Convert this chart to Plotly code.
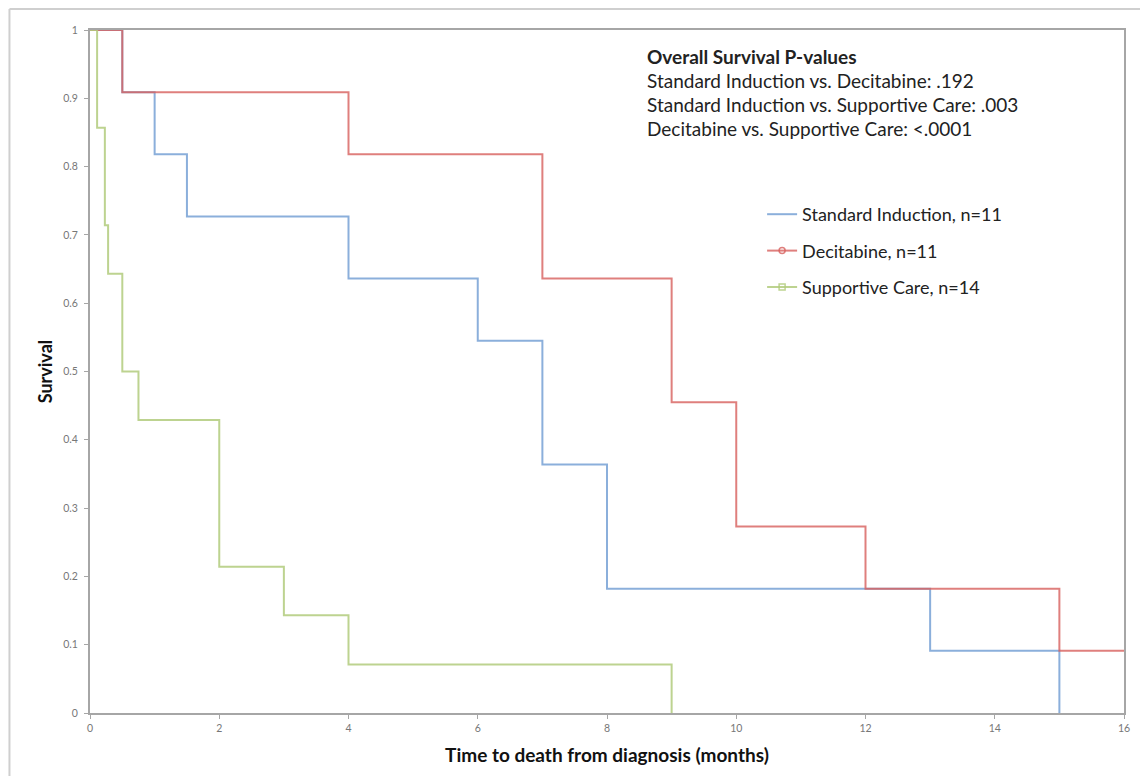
import plotly.graph_objects as go

# ---- data ----
si_time = [0, 0.5, 1, 1.5, 4, 6, 7, 8, 13, 15]
si_surv = [1, 0.909, 0.818, 0.727, 0.636, 0.545, 0.364, 0.182, 0.091, 0]

dec_time = [0, 0.5, 4, 7, 9, 10, 12, 15, 16]
dec_surv = [1, 0.909, 0.818, 0.636, 0.455, 0.273, 0.182, 0.091, 0.091]

sc_time = [0, 0.11, 0.23, 0.28, 0.5, 0.75, 2, 3, 4, 9]
sc_surv = [1, 0.857, 0.714, 0.643, 0.5, 0.429, 0.214, 0.143, 0.071, 0]

series_names = ["Standard Induction, n=11", "Decitabine, n=11", "Supportive Care, n=14"]
x_ticks = [0, 2, 4, 6, 8, 10, 12, 14, 16]
y_ticks = [0, 0.1, 0.2, 0.3, 0.4, 0.5, 0.6, 0.7, 0.8, 0.9, 1]
y_tick_text = ["0", "0.1", "0.2", "0.3", "0.4", "0.5", "0.6", "0.7", "0.8", "0.9", "1"]

pvalue_title = "Overall Survival P-values"
pvalue_lines = [
    "Standard Induction vs. Decitabine: .192",
    "Standard Induction vs. Supportive Care: .003",
    "Decitabine vs. Supportive Care: <.0001",
]

colors = ["rgba(110,155,210,0.80)", "rgba(215,95,92,0.80)", "rgba(178,203,125,0.85)"]
markers = [None, "circle-open", "square-open"]

FONT = "Lato"

fig = go.Figure()
data = [(si_time, si_surv), (dec_time, dec_surv), (sc_time, sc_surv)]
for (t, s), name, c in zip(data, series_names, colors):
    fig.add_trace(go.Scatter(x=t, y=s, mode="lines", line=dict(color=c, width=2, shape="hv"),
                             showlegend=False, hoverinfo="x+y", name=name))

# legend entries
for i, (name, c, m) in enumerate(zip(series_names, colors, markers)):
    if m is None:
        fig.add_trace(go.Scatter(x=[None], y=[None], mode="lines", line=dict(color=c, width=2),
                                 name=name, legendgroup=f"g{i}"))
    else:
        fig.add_trace(go.Scatter(x=[None], y=[None], mode="lines+markers", line=dict(color=c, width=2),
                                 marker=dict(symbol=m, size=6, color=c, line=dict(width=1.5, color=c)),
                                 name=name, legendgroup=f"g{i}"))

# plot area in page pixels: x 90..1130, y 30..713
def py(p):
    return (713 - p) / 683

def px(p):
    return (p - 90) / 1040

annots = [dict(text="<b>" + pvalue_title + "</b>", x=px(648), y=py(57))]
for k, line in enumerate(pvalue_lines):
    annots.append(dict(text=line, x=px(648), y=py(81 + 24 * k)))
for a in annots:
    a.update(xref="paper", yref="paper", xanchor="left", yanchor="middle", showarrow=False,
             font=dict(family=FONT, size=19, color="#222222"))

axis_common = dict(showline=True, linecolor="#a6a6a6", linewidth=2, mirror=True,
                   showgrid=False, zeroline=False, ticks="outside", ticklen=4, tickwidth=1,
                   tickcolor="#a6a6a6", tickfont=dict(family=FONT, size=10.5, color="#777777"))

fig.update_layout(
    width=1132, height=768,
    margin=dict(l=82, r=10, t=22, b=63),
    paper_bgcolor="white", plot_bgcolor="white",
    xaxis=dict(range=[0, 16], tickvals=x_ticks, ticktext=[str(v) for v in x_ticks],
               title=dict(text="<b>Time to death from diagnosis (months)</b>",
                          font=dict(family=FONT, size=19, color="#111111"), standoff=16),
               **axis_common),
    yaxis=dict(range=[0, 1], tickvals=y_ticks, ticktext=y_tick_text, ticklabelstandoff=4,
               title=dict(text="<b>Survival</b>", font=dict(family=FONT, size=18, color="#111111"), standoff=6),
               **axis_common),
    legend=dict(x=px(766), y=py(196), xanchor="left", yanchor="top",
                font=dict(family=FONT, size=18, color="#222222"), tracegroupgap=10,
                bgcolor="rgba(0,0,0,0)"),
    annotations=annots,
    shapes=[
        dict(type="line", xref="paper", yref="paper", x0=px(9), x1=1.2,
             y0=py(9), y1=py(9), line=dict(color="#cfcfcf", width=2)),
        dict(type="line", xref="paper", yref="paper", x0=px(9), x1=px(9),
             y0=-0.2, y1=py(9), line=dict(color="#cfcfcf", width=2)),
    ],
)

fig.write_html("out.html")
